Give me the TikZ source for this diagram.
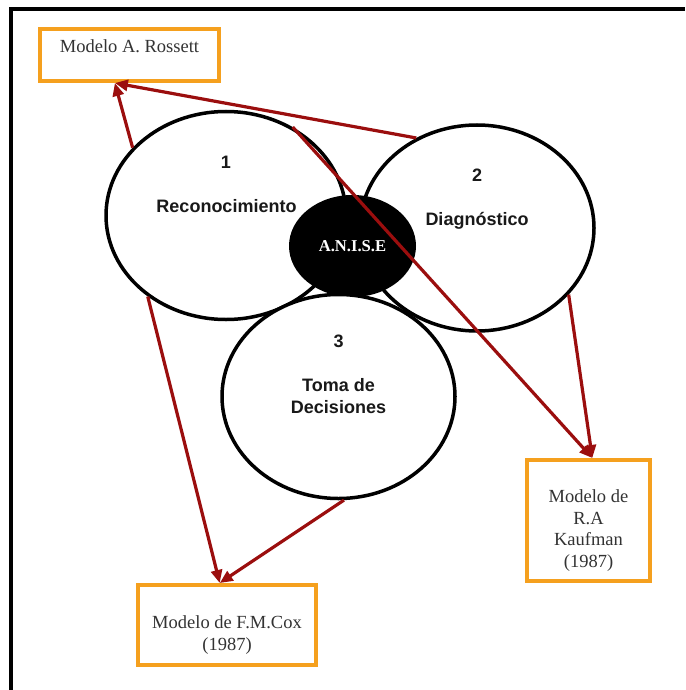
\documentclass[tikz,border=0pt]{standalone}
\usepackage{fontspec}
\setmainfont{Liberation Serif}
\setsansfont{Liberation Sans}
\usepackage{xcolor}
\definecolor{ArrowRed}{HTML}{9B0E0E}
\definecolor{BoxOrange}{HTML}{F5A01E}
\definecolor{InkGray}{HTML}{333333}
\usepackage{tikz}
\usetikzlibrary{calc, arrows.meta, shapes.geometric}

\tikzset{
  phase/.style={ellipse, draw=black, line width=3.5pt, fill=white, inner sep=0pt},
  phasetext/.style={font=\sffamily\bfseries\fontsize{18}{22}\selectfont, text=black!90, anchor=base, inner sep=0pt, align=center},
  model/.style={rectangle, draw=BoxOrange, line width=4pt, fill=white, align=center, text=InkGray, inner sep=0pt,
    font=\fontsize{18.5}{21.5}\selectfont},
  link/.style={draw=ArrowRed, line width=3.2pt, -{Triangle[length=13pt,width=11pt]}},
}

\begin{document}
\begin{tikzpicture}[x=1pt,y=-1pt]
  \useasboundingbox (0,0) rectangle (685,690);
  % frame
  \draw[line width=4pt] (11,690) -- (11,9.3) -- (685,9.3);
  % phases
  \node[phase, minimum width=240pt, minimum height=208pt] (rec) at (226,215.5) {};
  \node[phase, minimum width=234pt, minimum height=206pt] (dia) at (477,228) {};
  \node[ellipse, fill=black, inner sep=0pt, minimum width=127pt, minimum height=102pt,
    text=white, font=\bfseries\fontsize{16.6}{20}\selectfont] (anise) at (352.5,246) {A.N.I.S.E};
  \node[phase, minimum width=233pt, minimum height=204pt] (dec) at (338.5,396.5) {};
  \node[phasetext] at (226,168) {1};
  \node[phasetext] at (226.5,212) {Reconocimiento};
  \node[phasetext] at (477,181) {2};
  \node[phasetext] at (477,225) {Diagnóstico};
  \node[phasetext] at (338.5,347) {3};
  \node[phasetext] at (338.5,413) {Toma de\\Decisiones};
  % models
  \node[model, minimum width=179pt, minimum height=52pt, text height=12.6pt, text depth=16.6pt] (ros) at (129.5,55) {Modelo A. Rossett};
  \node[model, minimum width=178pt, minimum height=80pt, text height=54pt, text depth=4pt] (cox) at (227,625) {Modelo de F.M.Cox\\(1987)};
  \node[model, minimum width=123pt, minimum height=121pt, text height=97pt, text depth=4pt] (kau) at (588.5,520.5) {Modelo de\\R.A\\Kaufman\\(1987)};
  \coordinate (ros-in) at ($(ros.south west)!0.42!(ros.south east)$);
  \coordinate (cox-in) at ($(cox.north west)!0.46!(cox.north east)$);
  \coordinate (kau-in) at ($(kau.north west)!0.53!(kau.north east)$);
  % links
  \draw[link] (rec.144.3) -- (ros-in);
  \draw[link] (dia.124.6) -- (ros-in);
  \draw[link] (rec.53.8) -- (kau-in);
  \draw[link] (dia.324.2) -- (kau-in);
  \draw[link] (rec.226) -- (cox-in);
  \draw[link] (dec.273.6) -- (cox-in);
\end{tikzpicture}
\end{document}
